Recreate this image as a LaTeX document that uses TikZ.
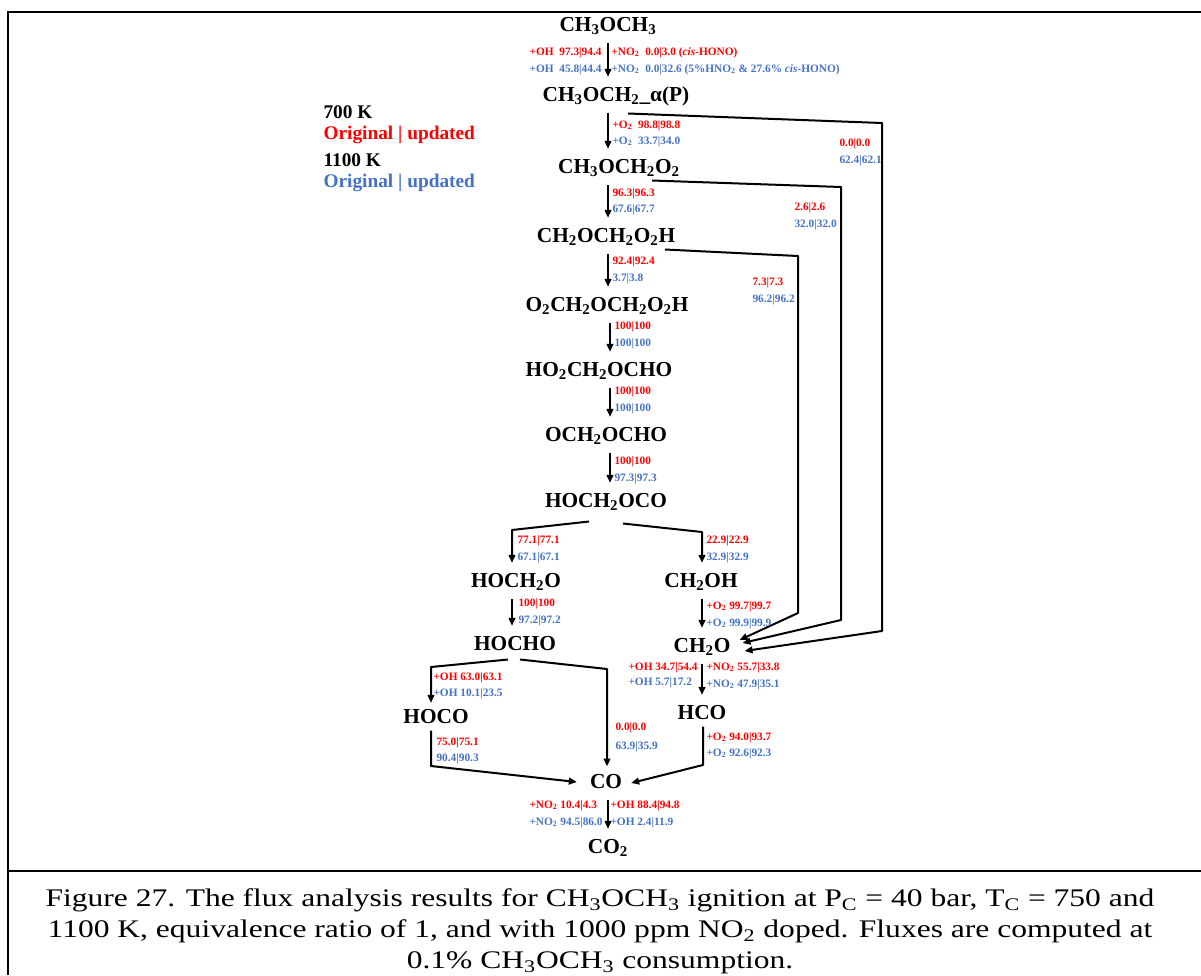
\documentclass[tikz,border=0pt]{standalone}
\usepackage{fontspec}
\usepackage{graphicx}
\setmainfont{Liberation Serif}
\usetikzlibrary{arrows.meta,calc}

\definecolor{lowTred}{RGB}{255,0,0}
\definecolor{highTblue}{RGB}{68,114,196}
\newcommand{\sbs}[1]{\textsubscript{#1}}

\tikzset{every picture/.style={line width=0.75pt}}
\tikzset{
  species/.style={font=\fontsize{16}{18}\selectfont\bfseries, inner sep=2pt, text height=11pt, text depth=3pt},
  legend/.style={font=\fontsize{14.5}{16}\selectfont\bfseries, inner sep=0pt, anchor=west},
  lowT/.style={text=lowTred, font=\fontsize{8.5}{10}\selectfont\bfseries, inner sep=0pt, text height=6pt, text depth=1.5pt, anchor=west},
  highT/.style={lowT, text=highTblue},
  flux/.style={line width=1.5pt, -{Triangle[length=6pt,width=5pt]}, shorten <=3pt, shorten >=5pt},
  route/.style={line width=1.5pt, -{Triangle[length=6pt,width=5pt]}, line join=round},
  frame/.style={line width=2.2pt}
}

\begin{document}
\begin{tikzpicture}[x=0.75pt,y=0.75pt,yscale=-1,xscale=1]
\useasboundingbox (0,0) rectangle (1201,975);

% Frame
\draw [frame] (8,975) -- (8,12) -- (312,12) ;
\draw [line width=1.1pt] (312,12) -- (908,12) ;
\draw [frame] (908,12) -- (1201,12) ;
\draw [frame] (8,871) -- (1201,871) ;

% Legend
\node [legend] (leg1) at (323,112) {700 K};
\node [legend, text=lowTred] (leg2) at (323,135) {Original | updated};
\node [legend] (leg3) at (323,160) {1100 K};
\node [legend, text=highTblue] (leg4) at (323,183) {Original | updated};

% Species
\node [species] (ch3och3) at (608,26) {CH\sbs{3}OCH\sbs{3}};
\node [species] (ch3och2) at (616,96) {CH\sbs{3}OCH\sbs{2}\_α(P)};
\node [species] (ch3och2o2) at (619,168) {CH\sbs{3}OCH\sbs{2}O\sbs{2}};
\node [species] (ch2och2o2h) at (606,237) {CH\sbs{2}OCH\sbs{2}O\sbs{2}H};
\node [species] (o2ch2och2o2h) at (607,306) {O\sbs{2}CH\sbs{2}OCH\sbs{2}O\sbs{2}H};
\node [species] (ho2ch2ocho) at (599,371) {HO\sbs{2}CH\sbs{2}OCHO};
\node [species] (och2ocho) at (606,436) {OCH\sbs{2}OCHO};
\node [species] (hoch2oco) at (606,502) {HOCH\sbs{2}OCO};
\node [species] (hoch2o) at (516,582) {HOCH\sbs{2}O};
\node [species] (ch2oh) at (701,582) {CH\sbs{2}OH};
\node [species] (hocho) at (515,645) {HOCHO};
\node [species] (ch2o) at (702,647) {CH\sbs{2}O};
\node [species] (hoco) at (436,718) {HOCO};
\node [species] (hco) at (702,714) {HCO};
\node [species] (co) at (606,783) {CO};
\node [species] (co2) at (608,848) {CO\sbs{2}};

% Columns and bends
\coordinate (spine) at (608,0);
\coordinate (spine2) at (610,0);
\coordinate (b1) at (512,530);
\coordinate (b2) at (702,532);
\coordinate (b3) at (431,667);
\coordinate (b4) at (607,669);
\coordinate (b5) at (431,766);
\coordinate (b6) at (703,765);

% Main chain
\draw [flux] (ch3och3.south -| spine) -- (ch3och2.north -| spine);
\draw [flux] (ch3och2.south -| spine) -- (ch3och2o2.north -| spine);
\draw [flux] (ch3och2o2.south -| spine) -- (ch2och2o2h.north -| spine);
\draw [flux] (ch2och2o2h.south -| spine) -- (o2ch2och2o2h.north -| spine);
\draw [flux] (o2ch2och2o2h.south -| spine2) -- (ho2ch2ocho.north -| spine2);
\draw [flux] (ho2ch2ocho.south -| spine2) -- (och2ocho.north -| spine2);
\draw [flux] (och2ocho.south -| spine2) -- (hoch2oco.north -| spine2);
\draw [flux] (co.south -| spine) -- (co2.north -| spine);
\draw [flux] (hoch2o.south -| b1) -- (hocho.north -| b1);
\draw [flux] (ch2oh.south -| b2) -- (ch2o.north -| b2);
\draw [flux] (ch2o.south -| b2) -- (hco.north -| b2);

% Branches
\draw [route, shorten >=5pt] ($(hoch2oco.south)+(-17,7)$) -- (b1) -- (b1 |- hoch2o.north);
\draw [route, shorten >=5pt] ($(hoch2oco.south)+(17,9)$) -- (b2) -- (b2 |- ch2oh.north);
\draw [route, shorten >=2pt] ($(hocho.south)+(-7,2)$) -- (b3) -- (b3 |- hoco.north);
\draw [route, shorten >=3pt] ($(hocho.south)+(5,2)$) -- (b4) -- (b4 |- co.north);
\draw [route] (b3 |- hoco.south) -- (b5) -- ($(co.west)+(-10,-1)$);
\draw [route] (hco.south -| b6) -- (b6) -- ($(co.east)+(6,0)$);

% Long routes to CH2O
\draw [route] ($(ch3och2.south)+(12,5)$) -- (882,123) -- (882,631) -- ($(ch2o.east)+(11,4)$);
\draw [route] ($(ch3och2o2.south)+(33,0)$) -- (841,187) -- (841,620) -- ($(ch2o.east)+(9,-4)$);
\draw [route] ($(ch2och2o2h.south)+(59,0)$) -- (798,256) -- (798,613) -- ($(ch2o.east)+(6,-7)$);

% Flux labels
\node [lowT, anchor=east] (f1a) at (602,52) {+OH~ 97.3|94.4};
\node [lowT] (f1b) at (611,52) {+NO\sbs{2}~ 0.0|3.0 (\textit{cis}-HONO)};
\node [highT, anchor=east] (f1c) at (602,69) {+OH~ 45.8|44.4};
\node [highT] (f1d) at (611,69) {+NO\sbs{2}~ 0.0|32.6 (5\%HNO\sbs{2} \& 27.6\% \textit{cis}-HONO)};
\node [lowT] (f2a) at (612,125) {+O\sbs{2}~ 98.8|98.8};
\node [highT] (f2b) at (612,141) {+O\sbs{2}~ 33.7|34.0};
\node [lowT] (f3a) at (612,193) {96.3|96.3};
\node [highT] (f3b) at (612,209) {67.6|67.7};
\node [lowT] (f4a) at (612,261) {92.4|92.4};
\node [highT] (f4b) at (612,278) {3.7|3.8};
\node [lowT] (f5a) at (614,326) {100|100};
\node [highT] (f5b) at (614,343) {100|100};
\node [lowT] (f6a) at (614,391) {100|100};
\node [highT] (f6b) at (614,408) {100|100};
\node [lowT] (f7a) at (614,461) {100|100};
\node [highT] (f7b) at (614,478) {97.3|97.3};
\node [lowT] (fAa) at (839,143) {0.0|0.0};
\node [highT] (fAb) at (839,160) {62.4|62.1};
\node [lowT] (fBa) at (794,207) {2.6|2.6};
\node [highT] (fBb) at (794,224) {32.0|32.0};
\node [lowT] (fCa) at (752,282) {7.3|7.3};
\node [highT] (fCb) at (752,299) {96.2|96.2};
\node [lowT] (f8a) at (517,540) {77.1|77.1};
\node [highT] (f8b) at (517,557) {67.1|67.1};
\node [lowT] (f9a) at (706,540) {22.9|22.9};
\node [highT] (f9b) at (706,557) {32.9|32.9};
\node [lowT] (f10a) at (518,603) {100|100};
\node [highT] (f10b) at (518,620) {97.2|97.2};
\node [lowT] (f11a) at (706,606) {+O\sbs{2} 99.7|99.7};
\node [highT] (f11b) at (706,623) {+O\sbs{2} 99.9|99.9};
\node [lowT] (f12a) at (628,667) {+OH 34.7|54.4};
\node [highT] (f12b) at (628,682) {+OH 5.7|17.2};
\node [lowT] (f12c) at (706,667) {+NO\sbs{2} 55.7|33.8};
\node [highT] (f12d) at (706,684) {+NO\sbs{2} 47.9|35.1};
\node [lowT] (f13a) at (433,677) {+OH 63.0|63.1};
\node [highT] (f13b) at (433,693) {+OH 10.1|23.5};
\node [lowT] (f14a) at (615,727) {0.0|0.0};
\node [highT] (f14b) at (615,746) {63.9|35.9};
\node [lowT] (f15a) at (436,742) {75.0|75.1};
\node [highT] (f15b) at (436,758) {90.4|90.3};
\node [lowT] (f16a) at (706,737) {+O\sbs{2} 94.0|93.7};
\node [highT] (f16b) at (706,753) {+O\sbs{2} 92.6|92.3};
\node [lowT] (f17a) at (529,805) {+NO\sbs{2} 10.4|4.3};
\node [highT] (f17b) at (529,822) {+NO\sbs{2} 94.5|86.0};
\node [lowT] (f17c) at (610,805) {+OH 88.4|94.8};
\node [highT] (f17d) at (610,822) {+OH 2.4|11.9};

% Caption
\node [inner sep=0pt] (caption) at (600,931)
  {\scalebox{1.245}[1]{\fontsize{19}{23.25}\selectfont
   \begin{tabular}{@{}c@{}}
   Figure 27. The flux analysis results for CH\sbs{3}OCH\sbs{3} ignition at P\sbs{C} = 40 bar, T\sbs{C} = 750 and\\
   1100 K, equivalence ratio of 1, and with 1000 ppm NO\sbs{2} doped. Fluxes are computed at\\
   0.1\% CH\sbs{3}OCH\sbs{3} consumption.
   \end{tabular}}};

\end{tikzpicture}
\end{document}
